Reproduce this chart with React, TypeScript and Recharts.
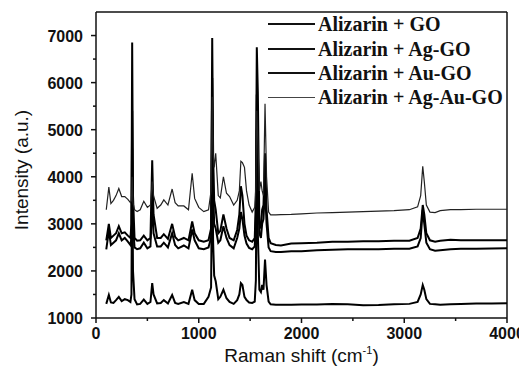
import React from 'react';
import { LineChart, Line, XAxis, YAxis, ReferenceLine, Legend } from 'recharts';

// Raman shift positions (cm-1)
const shifts = [
  100, 125, 145, 170, 195, 222, 250, 280, 310, 335,
  345, 352, 360, 375, 400, 430, 465, 500, 530, 547,
  560, 595, 630, 660, 700, 741, 770, 800, 855, 900,
  936, 960, 1000, 1049, 1095, 1120, 1131, 1140, 1150, 1165,
  1190, 1210, 1240, 1270, 1300, 1340, 1374, 1395, 1410, 1425,
  1445, 1465, 1490, 1520, 1545, 1556, 1565, 1575, 1590, 1605,
  1617, 1630, 1645, 1660, 1680, 1700, 1750, 1800, 1900, 2000,
  2150, 2300, 2450, 2600, 2750, 2900, 3050, 3130, 3160, 3180,
  3195, 3215, 3250, 3300, 3350, 3450, 3550, 3700, 3850, 4000,
];

// Intensity (a.u.) of each sample
const goIntensity = [
  1300, 1490, 1330, 1320, 1380, 1450, 1360, 1400, 1380, 1340,
  1500, 4600, 2000, 1400, 1290, 1300, 1390, 1300, 1340, 1740,
  1500, 1310, 1320, 1380, 1310, 1490, 1320, 1300, 1340, 1300,
  1600, 1380, 1300, 1300, 1450, 1650, 4400, 2600, 1900, 1780,
  1400, 1450, 1600, 1420, 1340, 1300, 1380, 1500, 1740, 1700,
  1450, 1380, 1330, 1320, 1350, 1800, 5000, 2800, 1600, 1550,
  1700, 1600, 2240, 1700, 1350, 1290, 1280, 1280, 1280, 1285,
  1285, 1295, 1290, 1270, 1275, 1290, 1300, 1340, 1500, 1700,
  1600, 1400, 1300, 1290, 1280, 1290, 1300, 1310, 1310, 1315,
];

const agGoIntensity = [
  2650, 3000, 2700, 2750, 2800, 2950, 2800, 2820, 2750, 2700,
  3000, 6850, 3600, 2700, 2640, 2650, 2750, 2650, 2700, 4350,
  3200, 2700, 2700, 2780, 2680, 3000, 2720, 2650, 2700, 2650,
  3050, 2800, 2650, 2620, 2650, 2900, 6950, 4500, 3500, 3300,
  2800, 2850, 3200, 2900, 2700, 2650, 2870, 3200, 3800, 3600,
  3000, 2750, 2650, 2620, 2700, 3500, 6750, 5800, 3000, 2900,
  3300, 3400, 4500, 3300, 2700, 2590, 2550, 2540, 2580, 2590,
  2600, 2620, 2620, 2630, 2630, 2640, 2640, 2700, 2900, 3400,
  3200, 2800, 2650, 2620, 2640, 2660, 2650, 2650, 2650, 2650,
];

const auGoIntensity = [
  2460, 2850, 2550, 2600, 2650, 2800, 2650, 2700, 2620, 2550,
  2700, 5400, 3000, 2500, 2460, 2480, 2600, 2480, 2520, 3500,
  2800, 2520, 2520, 2600, 2500, 2800, 2550, 2480, 2540, 2480,
  2880, 2650, 2480, 2460, 2500, 2700, 6100, 3800, 3000, 2900,
  2600, 2650, 2950, 2700, 2550, 2480, 2700, 2900, 3250, 3100,
  2750, 2580, 2490, 2460, 2520, 3200, 5750, 4500, 2800, 2700,
  3000, 3100, 3800, 3000, 2500, 2420, 2400, 2400, 2420, 2420,
  2440, 2450, 2460, 2460, 2460, 2470, 2470, 2520, 2700, 3300,
  3000, 2600, 2460, 2430, 2440, 2460, 2470, 2470, 2475, 2480,
];

const agAuGoIntensity = [
  3300, 3780, 3430, 3500, 3600, 3750, 3580, 3580, 3520, 3450,
  3500, 4000, 3450, 3300, 3260, 3300, 3480, 3350, 3400, 3900,
  3600, 3330, 3400, 3510, 3400, 3740, 3450, 3380, 3380, 3300,
  4075, 3540, 3350, 3260, 3300, 3700, 5700, 4500, 4200, 4500,
  3600, 3550, 4000, 3650, 3580, 3400, 3500, 3700, 4330, 4300,
  4200, 3700, 3400, 3250, 3350, 3800, 5400, 4800, 3700, 3900,
  3700, 3600, 5550, 4000, 3250, 3190, 3190, 3195, 3200, 3210,
  3230, 3240, 3250, 3260, 3270, 3280, 3300, 3360, 3600, 4220,
  3900, 3400, 3250, 3240, 3280, 3300, 3300, 3310, 3310, 3310,
];

const seriesNames = ['Alizarin + GO', 'Alizarin + Ag-GO', 'Alizarin + Au-GO', 'Alizarin + Ag-Au-GO'];
const seriesKeys = ['go', 'agGo', 'auGo', 'agAuGo'];
const seriesWidths = [2, 2, 2, 1.2];
const seriesColors = ['#000', '#000', '#000', '#222'];
const legendWidths = [2.5, 2.5, 2.5, 1.5];
const legendColors = ['#111', '#111', '#111', '#444'];

const xTicks = [0, 500, 1000, 1500, 2000, 2500, 3000, 3500, 4000];
const yTicks = [1000, 1500, 2000, 2500, 3000, 3500, 4000, 4500, 5000, 5500, 6000, 6500, 7000];

const data = shifts.map((s, i) => ({
  shift: s,
  go: goIntensity[i],
  agGo: agGoIntensity[i],
  auGo: auGoIntensity[i],
  agAuGo: agAuGoIntensity[i],
}));

const SANS = '"Liberation Sans", Arial, sans-serif';
const SERIF = '"Liberation Serif", "Times New Roman", serif';
const INK = '#111';

const XTick = (props: any) => {
  const { x, y, payload } = props;
  const major = payload.value % 1000 === 0;
  return (
    <g>
      <line x1={x} x2={x} y1={y} y2={y + (major ? 5 : 3)} stroke={INK} strokeWidth={1.5} />
      {major && (
        <text x={x} y={y + 21} textAnchor="middle" fontFamily={SANS} fontWeight="bold" fontSize={16} fill={INK}>
          {payload.value}
        </text>
      )}
    </g>
  );
};

const YTick = (props: any) => {
  const { x, y, payload } = props;
  const major = payload.value % 1000 === 0;
  return (
    <g>
      <line x1={x} x2={x - (major ? 5 : 3)} y1={y} y2={y} stroke={INK} strokeWidth={1.5} />
      {major && (
        <text x={x - 13} y={y + 6} textAnchor="end" fontFamily={SANS} fontWeight="bold" fontSize={16} fill={INK}>
          {payload.value}
        </text>
      )}
    </g>
  );
};

const XTitle = (props: any) => {
  const { viewBox } = props;
  const cx = viewBox.x + viewBox.width / 2;
  const y = viewBox.y + 44;
  return (
    <text x={cx} y={y} textAnchor="middle" fontFamily={SANS} fontSize={19} fill={INK}>
      <tspan>Raman shift (cm</tspan>
      <tspan dy={-8} fontSize={11}>-1</tspan>
      <tspan dy={8}>)</tspan>
    </text>
  );
};

const YTitle = (props: any) => {
  const { viewBox } = props;
  const cx = 20;
  const cy = viewBox.y + viewBox.height / 2 + 5;
  return (
    <text x={cx} y={cy} transform={`rotate(-90 ${cx} ${cy})`} textAnchor="middle" fontFamily={SANS} fontSize={19} fill={INK}>
      Intensity (a.u.)
    </text>
  );
};

const renderLegend = () => (
  <div
    style={{
      position: 'absolute',
      top: 0,
      left: 0,
      whiteSpace: 'nowrap',
      fontFamily: SERIF,
      fontWeight: 'bold',
      fontSize: 20,
      color: INK,
    }}
  >
    {seriesNames.map((name, i) => (
      <div key={name} style={{ display: 'flex', alignItems: 'center', height: 24.4 }}>
        <span
          style={{
            display: 'inline-block',
            width: 47,
            height: 0,
            borderTop: `${legendWidths[i]}px solid ${legendColors[i]}`,
            marginRight: 3,
          }}
        />
        <span style={{ lineHeight: '20px' }}>{name}</span>
      </div>
    ))}
  </div>
);

export default function App() {
  return (
    <LineChart width={519} height={362} data={data} margin={{ top: 4, right: 20, bottom: 0, left: 0 }}>
      <XAxis
        type="number"
        dataKey="shift"
        domain={[0, 4000]}
        ticks={xTicks}
        interval={0}
        height={52}
        tickSize={0}
        tickMargin={0}
        tickLine={false}
        axisLine={{ stroke: INK, strokeWidth: 1.5 }}
        tick={<XTick />}
        label={XTitle}
        allowDataOverflow
      />
      <YAxis
        type="number"
        domain={[1000, 7500]}
        ticks={yTicks}
        interval={0}
        width={88}
        tickSize={0}
        tickMargin={0}
        tickLine={false}
        axisLine={{ stroke: INK, strokeWidth: 1.5 }}
        tick={<YTick />}
        label={YTitle}
        allowDataOverflow
      />
      <ReferenceLine y={7500} stroke={INK} strokeWidth={1.5} />
      <ReferenceLine x={4000} stroke={INK} strokeWidth={1.5} />
      {seriesKeys.map((k, i) => (
        <Line
          key={k}
          type="linear"
          dataKey={k}
          name={seriesNames[i]}
          stroke={seriesColors[i]}
          strokeWidth={seriesWidths[i]}
          dot={false}
          activeDot={false}
          isAnimationActive={false}
        />
      ))}
      <Legend
        content={renderLegend}
        wrapperStyle={{ top: 4, left: 260, width: 0, height: 0, overflow: 'visible' }}
      />
    </LineChart>
  );
}
